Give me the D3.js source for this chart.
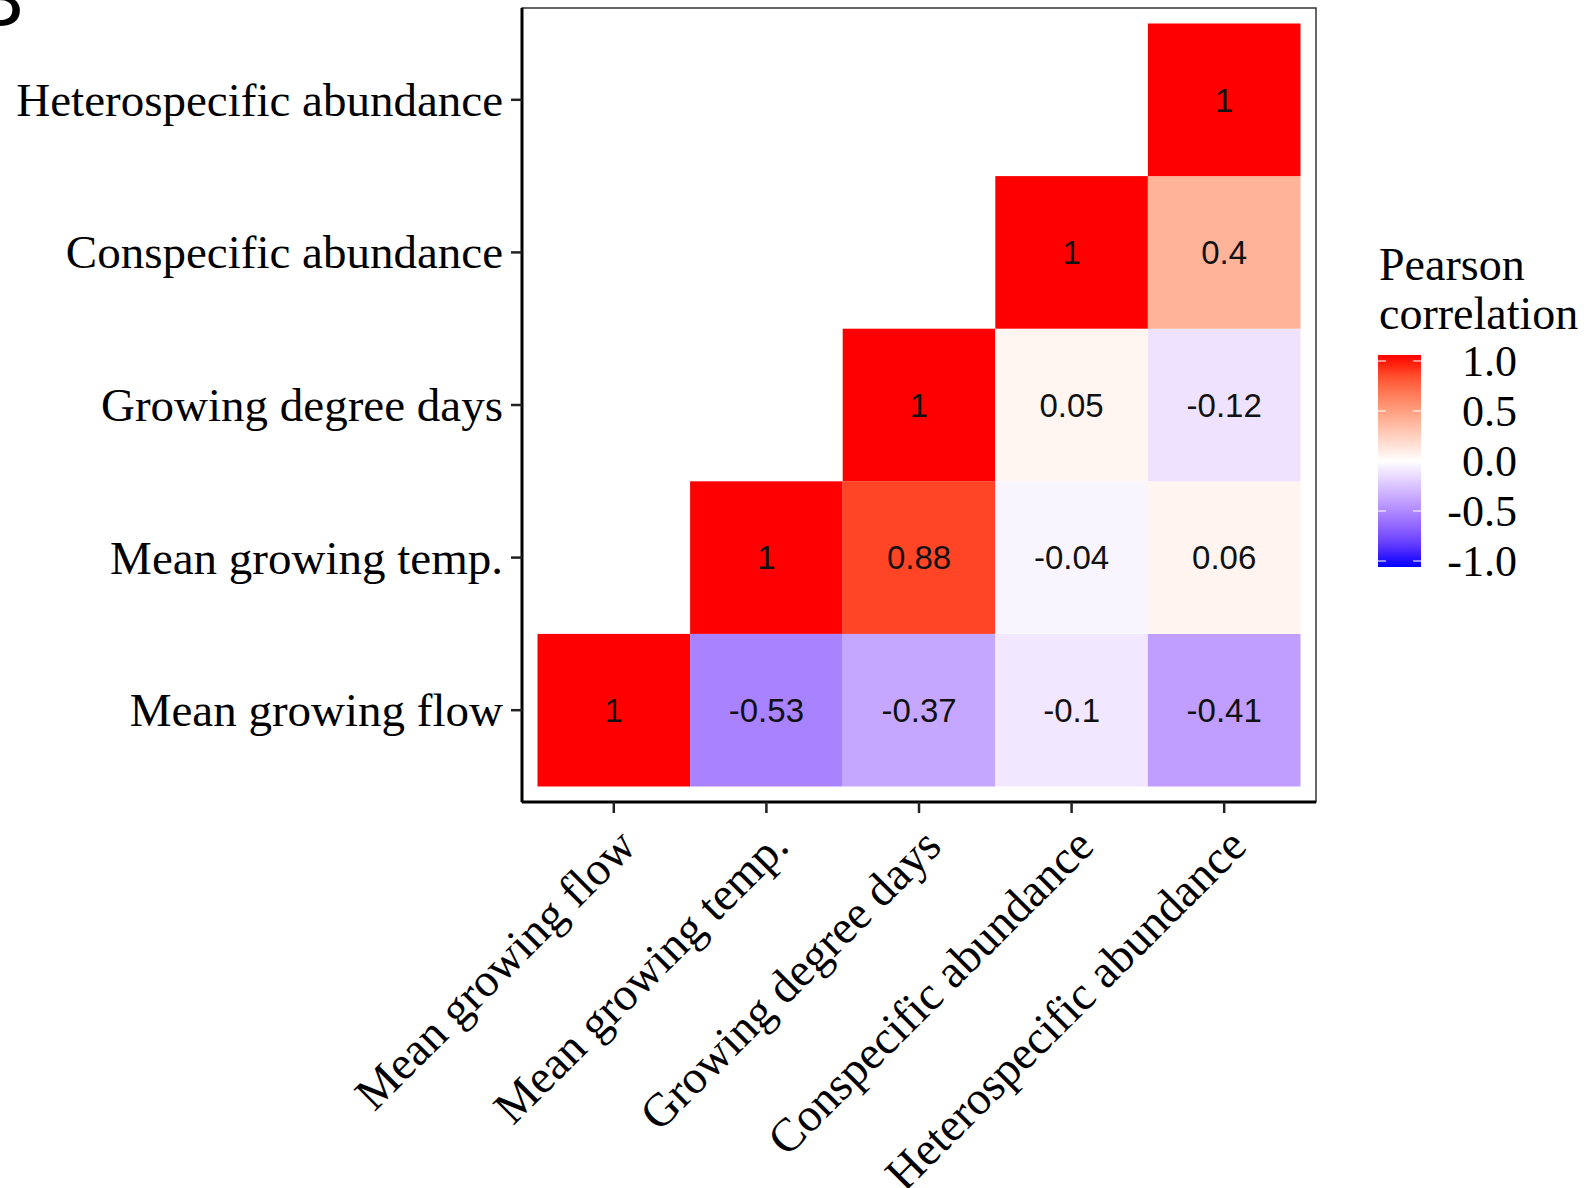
<!DOCTYPE html>
<html>
<head>
<meta charset="utf-8">
<script src="https://cdn.jsdelivr.net/npm/d3@7"></script>
<style>
  html, body { margin: 0; padding: 0; background: #fff; }
  svg { display: block; }
</style>
</head>
<body>
<svg id="chart" width="1588" height="1188"></svg>
<script>
// Variables, in display order (left→right on x, bottom→top on y)
const variables = [
  "Mean growing flow",
  "Mean growing temp.",
  "Growing degree days",
  "Conspecific abundance",
  "Heterospecific abundance"
];

// Upper-triangle Pearson correlations, one row per y variable (null = not drawn)
const rowFlow   = [1, -0.53, -0.37, -0.1, -0.41];
const rowTemp   = [null, 1, 0.88, -0.04, 0.06];
const rowGDD    = [null, null, 1, 0.05, -0.12];
const rowConsp  = [null, null, null, 1, 0.4];
const rowHetero = [null, null, null, null, 1];
const corrRows = [rowFlow, rowTemp, rowGDD, rowConsp, rowHetero];

// Legend
const legendTitle = ["Pearson", "correlation"];
const legendTicks = [1.0, 0.5, 0.0, -0.5, -1.0];
const panelTag = "B";

const cells = [];
corrRows.forEach((row, i) => row.forEach((v, j) => {
  if (v !== null) cells.push({ x: variables[j], y: variables[i], value: v });
}));

const svg = d3.select("#chart");
const serif = "'Liberation Serif', 'Times New Roman', serif";
const sans = "'Liberation Sans', Arial, sans-serif";

// Panel geometry
const panel = { left: 522, right: 1316, top: 8, bottom: 802 };
const pad = 15.5;

const x = d3.scaleBand().domain(variables)
  .range([panel.left + pad, panel.right - pad]);
const y = d3.scaleBand().domain(variables)
  .range([panel.bottom - pad, panel.top + pad]);

const color = d3.scaleLinear().domain([-1, 0, 1])
  .range(["#0000ff", "#ffffff", "#ff0000"])
  .interpolate(d3.interpolateLab);

// Panel tag (clipped at the page corner)
svg.append("text")
  .attr("x", 24).attr("y", 26)
  .attr("text-anchor", "end")
  .attr("font-family", sans)
  .attr("font-size", 80)
  .attr("fill", "#000")
  .text(panelTag);

// Panel border (thin)
svg.append("rect")
  .attr("x", panel.left).attr("y", panel.top)
  .attr("width", panel.right - panel.left)
  .attr("height", panel.bottom - panel.top)
  .attr("fill", "none")
  .attr("stroke", "#333")
  .attr("stroke-width", 1.5);

// Tiles
svg.append("g").selectAll("rect").data(cells).join("rect")
  .attr("x", d => x(d.x))
  .attr("y", d => y(d.y))
  .attr("width", x.bandwidth())
  .attr("height", y.bandwidth())
  .attr("fill", d => color(d.value));

// Value labels
svg.append("g").selectAll("text").data(cells).join("text")
  .attr("x", d => x(d.x) + x.bandwidth() / 2)
  .attr("y", d => y(d.y) + y.bandwidth() / 2)
  .attr("dy", "0.36em")
  .attr("text-anchor", "middle")
  .attr("font-family", sans)
  .attr("font-size", 33)
  .attr("fill", "#111")
  .text(d => String(d.value));

// Axes
const xAxis = d3.axisBottom(x).tickSize(11).tickSizeOuter(0);
const yAxis = d3.axisLeft(y).tickSize(11).tickSizeOuter(0);

const gx = svg.append("g")
  .attr("transform", `translate(0,${panel.bottom})`)
  .call(xAxis);
gx.select(".domain").attr("d", `M${panel.left},0H${panel.right}`)
  .attr("stroke", "#000").attr("stroke-width", 3);
gx.selectAll(".tick line").attr("stroke", "#222").attr("stroke-width", 2.5);
gx.selectAll(".tick text")
  .attr("font-family", serif)
  .attr("font-size", 47)
  .attr("fill", "#000")
  .attr("text-anchor", "end")
  .attr("y", 0).attr("x", 0).attr("dy", 0)
  .attr("transform", "translate(4,26) rotate(-45) translate(0,29)");

const gy = svg.append("g")
  .attr("transform", `translate(${panel.left},0)`)
  .call(yAxis);
gy.select(".domain").attr("d", `M0,${panel.top}V${panel.bottom}`)
  .attr("stroke", "#000").attr("stroke-width", 3);
gy.selectAll(".tick line").attr("stroke", "#222").attr("stroke-width", 2.5);
gy.selectAll(".tick text")
  .attr("font-family", serif)
  .attr("font-size", 47)
  .attr("fill", "#000")
  .attr("x", -19)
  .attr("dy", "0.34em");

// Legend: colour bar
const lg = { x: 1378, y: 355, w: 43, h: 212 };
const legendScale = d3.scaleLinear().domain([1, -1]).range([lg.y + 6, lg.y + lg.h - 6]);

const defs = svg.append("defs");
const grad = defs.append("linearGradient")
  .attr("id", "corrGrad")
  .attr("x1", 0).attr("y1", 0).attr("x2", 0).attr("y2", 1);
d3.range(0, 1.0001, 0.05).forEach(t => {
  const yy = lg.y + t * lg.h;
  grad.append("stop")
    .attr("offset", t)
    .attr("stop-color", color(Math.max(-1, Math.min(1, legendScale.invert(yy)))));
});

svg.append("text")
  .attr("x", 1379).attr("y", 280)
  .attr("font-family", serif).attr("font-size", 46).attr("fill", "#000")
  .selectAll("tspan").data(legendTitle).join("tspan")
  .attr("x", 1379)
  .attr("dy", (d, i) => i === 0 ? 0 : 49)
  .text(d => d);

svg.append("rect")
  .attr("x", lg.x).attr("y", lg.y)
  .attr("width", lg.w).attr("height", lg.h)
  .attr("fill", "url(#corrGrad)");

const lt = svg.append("g");
legendTicks.forEach(v => {
  const yy = legendScale(v);
  lt.append("line").attr("x1", lg.x).attr("x2", lg.x + 8)
    .attr("y1", yy).attr("y2", yy).attr("stroke", "#fff").attr("stroke-opacity", 0.7).attr("stroke-width", 1.5);
  lt.append("line").attr("x1", lg.x + lg.w - 8).attr("x2", lg.x + lg.w)
    .attr("y1", yy).attr("y2", yy).attr("stroke", "#fff").attr("stroke-opacity", 0.7).attr("stroke-width", 1.5);
  lt.append("text")
    .attr("x", 1517).attr("y", yy)
    .attr("dy", "0.34em")
    .attr("text-anchor", "end")
    .attr("font-family", serif).attr("font-size", 44).attr("fill", "#000")
    .text(d3.format(".1f")(v).replace("−", "-"));
});
</script>
</body>
</html>
